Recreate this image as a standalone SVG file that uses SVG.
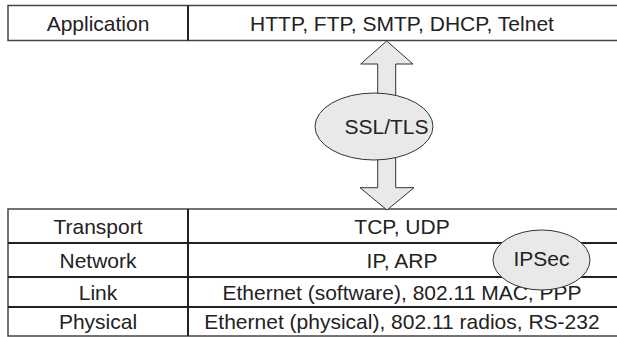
<svg xmlns="http://www.w3.org/2000/svg" width="617" height="337" viewBox="0 0 617 337">
<style>
.box{fill:#fff;stroke:#444;stroke-width:1.5}
.rule{stroke:#222;stroke-width:2}
.t{font-family:"Liberation Sans",Arial,sans-serif;font-size:21px;fill:#222;text-anchor:middle}
.bub{fill:#e9e9e9;stroke:#333;stroke-width:1}
.arr{fill:#e9e9e9;stroke:#333;stroke-width:1;stroke-linejoin:miter}
</style>
<rect width="617" height="337" fill="#fff"/>
<g id="application">
<rect class="box" x="8" y="5.5" width="612" height="35"/>
<line class="rule" x1="188" y1="5.5" x2="188" y2="40.5" stroke-width="1.5"/>
<text class="t" x="98" y="30.5">Application</text>
<text class="t" x="402" y="30.5">HTTP, FTP, SMTP, DHCP, Telnet</text>
</g>
<g id="stack">
<rect class="box" x="8" y="209" width="612" height="127"/>
<line class="rule" x1="8" y1="243" x2="620" y2="243"/>
<line class="rule" x1="8" y1="277" x2="620" y2="277"/>
<line class="rule" x1="8" y1="307" x2="620" y2="307"/>
<line class="rule" x1="188" y1="209" x2="188" y2="336" stroke-width="1.5"/>
<text class="t" x="98" y="233.5">Transport</text>
<text class="t" x="402" y="233.5">TCP, UDP</text>
<text class="t" x="98" y="267.5">Network</text>
<text class="t" x="402" y="267.5">IP, ARP</text>
<text class="t" x="98" y="299.5">Link</text>
<text class="t" x="402" y="299.5">Ethernet (software), 802.11 MAC, PPP</text>
<text class="t" x="98" y="329">Physical</text>
<text class="t" x="402" y="329">Ethernet (physical), 802.11 radios, RS-232</text>
</g>
<g id="connectors">
<polygon class="arr" points="386.7,41 413,64 395.7,64 395.7,110 377.7,110 377.7,64 360.7,64"/>
<polygon class="arr" points="377.7,140 395.7,140 395.7,187.7 414,187.7 387,210 360,187.7 377.7,187.7"/>
</g>
<g id="ssl-tls">
<ellipse class="bub" cx="374" cy="126.5" rx="59" ry="33.5"/>
<text class="t" x="386.5" y="134">SSL/TLS</text>
</g>
<g id="ipsec">
<ellipse class="bub" cx="541.5" cy="260" rx="48.5" ry="30"/>
<text class="t" x="541.5" y="266">IPSec</text>
</g>
</svg>
